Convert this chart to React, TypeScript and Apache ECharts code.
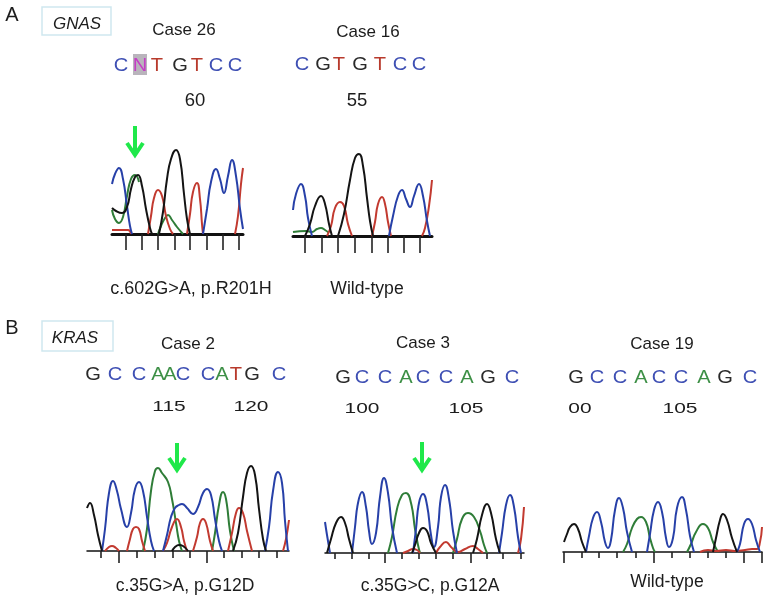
import React, { useEffect, useRef } from "react";
import * as echarts from "echarts";

type Pt = [number, number] | null;

// ---------- Trace values: [scan position, signal]; null breaks a trace ----------
const a1Blue: Pt[] = [[112,50],[115,60],[119,66],[123,55],[127,28],[130,8],[132,0],null,[203,0],[207,25],[211,52],[216,65],[220,55],[224,41],[228,58],[232,74],[236,58],[240,25],[243,5]];
const a1Black: Pt[] = [[112,26],[116,23],[122,21],[127,27],[131,45],[135,57],[138,59],[142,48],[146,25],[150,6],[152,0],null,[159,0],[163,22],[167,55],[171,75],[176,84],[180,75],[184,40],[187,15],[190,0]];
const a1Green: Pt[] = [[112,24],[115,15],[119,11],[123,17],[127,38],[131,55],[135,59],[139,52],null,[158,0],[161,8],[165,16],[168,19],[172,14],[177,7],[183,0]];
const a1Red: Pt[] = [[112,4],[128,4],[131,0],null,[148,0],[151,18],[154,36],[158,44],[162,38],[166,18],[170,5],[173,0],null,[187,0],[190,20],[193,42],[197,51],[200,35],[202,10],[203,0],null,[235,0],[238,18],[241,50],[243,66]];

const a2Blue: Pt[] = [[293,26],[296,42],[301,52],[305,40],[308,18],[312,0],null,[389,0],[393,20],[398,40],[402,46],[406,37],[410,29],[414,40],[419,52],[423,40],[427,15],[430,0]];
const a2Black: Pt[] = [[305,0],[310,12],[315,30],[321,40],[325,32],[329,12],[332,0],null,[338,0],[344,22],[350,56],[355,78],[359,82],[363,70],[367,38],[370,15],[373,0]];
const a2Green: Pt[] = [[293,4],[306,5],[312,4],[317,7],[321,8],[325,6],[329,3]];
const a2Red: Pt[] = [[327,0],[331,10],[335,28],[340,34],[344,30],[348,12],[352,0],null,[372,0],[375,14],[378,32],[382,39],[385,32],[388,14],[391,0],null,[422,0],[425,8],[429,30],[432,56]];

const b1Blue: Pt[] = [[102,0],[105,22],[109,58],[113,70],[117,60],[121,42],[127,24],[131,38],[135,62],[139,69],[143,60],[147,34],[151,10],[154,0],null,[163,0],[167,16],[171,34],[175,43],[179,46],[182,47],[187,43],[193,37],[198,44],[203,58],[207,62],[211,56],[215,32],[219,10],[222,0],null,[265,0],[269,24],[273,60],[278,79],[282,68],[285,30],[288,0]];
const b1Black: Pt[] = [[87,43],[90,48],[94,36],[98,16],[102,0],null,[172,0],[175,4],[179,6],[183,5],[188,0],null,[233,0],[238,18],[243,54],[247,78],[251,85],[255,76],[259,42],[263,12],[266,0]];
const b1Green: Pt[] = [[143,0],[147,22],[151,60],[155,80],[158,83],[162,78],[168,69],[172,52],[176,28],[179,10],[182,0],null,[212,0],[215,18],[219,46],[223,59],[226,52],[230,20],[234,0]];
const b1Red: Pt[] = [[105,0],[109,4],[112,5],[116,3],[119,0],null,[127,0],[130,12],[133,22],[136,24],[139,22],[142,10],[145,0],null,[163,0],[167,8],[172,24],[177,32],[181,24],[184,10],[187,0],null,[193,0],[197,14],[200,28],[203,32],[206,28],[210,10],[213,0],null,[228,0],[232,18],[236,38],[239,43],[243,38],[247,20],[252,0],null,[283,0],[286,12],[289,31]];

const b2Blue: Pt[] = [[325,31],[327,18],[330,0],null,[352,0],[355,26],[358,50],[362,61],[366,46],[369,22],[372,9],[376,20],[380,56],[384,75],[388,60],[392,26],[397,0],null,[413,0],[416,24],[419,50],[423,59],[427,48],[431,18],[434,6],[438,26],[441,56],[445,68],[449,54],[453,22],[457,0],null,[499,0],[502,20],[506,48],[510,58],[514,46],[518,16],[521,0]];
const b2Black: Pt[] = [[327,0],[331,14],[336,30],[341,36],[345,30],[349,14],[353,0],null,[412,0],[415,8],[419,20],[423,25],[427,22],[431,10],[436,0],null,[473,0],[477,14],[482,38],[487,49],[491,40],[496,14],[500,0]];
const b2Green: Pt[] = [[388,0],[392,16],[397,44],[402,58],[406,60],[411,50],[415,24],[418,8],[420,0],null,[453,0],[457,14],[462,34],[468,40],[474,36],[480,22],[484,8],[487,0]];
const b2Red: Pt[] = [[403,0],[408,2],[413,4],[417,3],[420,0],null,[436,0],[440,6],[446,11],[451,6],[458,1],[465,4],[473,7],[478,4],[483,0],null,[518,0],[521,14],[524,46]];

const b3Blue: Pt[] = [[586,0],[589,16],[593,34],[597,40],[601,30],[605,10],[608,4],[611,12],[615,42],[619,54],[623,44],[627,20],[632,0],null,[647,0],[650,18],[654,42],[658,50],[662,40],[666,14],[669,5],[673,14],[677,44],[682,55],[686,42],[690,16],[694,0],null,[737,0],[740,8],[744,28],[748,33],[752,28],[756,12],[760,0]];
const b3Black: Pt[] = [[564,10],[567,18],[570,25],[574,28],[578,23],[582,10],[586,0],null,[713,0],[716,14],[720,32],[723,38],[727,32],[732,14],[737,0]];
const b3Green: Pt[] = [[623,0],[627,8],[632,24],[637,33],[641,35],[646,30],[650,14],[653,4],[655,0],null,[687,0],[691,8],[696,20],[703,28],[708,24],[713,10],[718,0]];
const b3Red: Pt[] = [[700,0],[708,2],[716,1],[726,2],[735,1],[745,2],[752,3],[757,3],[760,10],[762,25]];

// ---------- Tick positions on the scan axis ----------
const a1Ticks = [126, 142, 158, 175, 190, 207, 223, 239];
const a2Ticks = [305, 322, 338, 355, 372, 388, 404, 420];
const b1Short = [101, 137, 155, 173, 190, 224, 242, 259, 277];
const b1Long = [119, 207];
const b2Short = [335, 352, 369, 402, 419, 436, 453, 487, 503, 521];
const b2Long = [385, 471];
const b3Short = [582, 599, 617, 636, 672, 690, 708, 726];
const b3Long = [564, 654, 744, 762];

// ---------- Text ----------
const a1Bases = ["C", "N", "T", "G", "T", "C", "C"];
const a2Bases = ["C", "G", "T", "G", "T", "C", "C"];
const b1Bases = ["G", "C", "C", "A", "A", "C", "C", "A", "T", "G", "C"];
const b2Bases = ["G", "C", "C", "A", "C", "C", "A", "G", "C"];
const b3Bases = ["G", "C", "C", "A", "C", "C", "A", "G", "C"];
const a1Numbers = ["60"];
const a2Numbers = ["55"];
const b1Numbers = ["115", "120"];
const b2Numbers = ["100", "105"];
const b3Numbers = ["00", "105"];

const FONT = '"Liberation Sans", Arial, sans-serif';
const BASE_COLOR: Record<string, string> = { A: "#3c8f45", C: "#3f50b4", G: "#2a2a2a", T: "#b83a2c", N: "#c43fc4" };
const TRACE = { blue: "#2740a8", black: "#141414", green: "#2f7d38", red: "#c23a30" };

const panels = [
  { left: 112, right: 243, base: 234, tickLen: 16, axisW: 3, traces: [a1Green, a1Red, a1Blue, a1Black], short: a1Ticks, long: [] as number[], longLen: 16 },
  { left: 293, right: 432, base: 236, tickLen: 17, axisW: 3, traces: [a2Green, a2Red, a2Blue, a2Black], short: a2Ticks, long: [] as number[], longLen: 17 },
  { left: 87, right: 289, base: 551, tickLen: 7, axisW: 1.5, traces: [b1Green, b1Red, b1Blue, b1Black], short: b1Short, long: b1Long, longLen: 12 },
  { left: 325, right: 524, base: 553, tickLen: 6, axisW: 1.5, traces: [b2Green, b2Red, b2Blue, b2Black], short: b2Short, long: b2Long, longLen: 10 },
  { left: 563, right: 762, base: 552, tickLen: 6, axisW: 1.5, traces: [b3Green, b3Red, b3Blue, b3Black], short: b3Short, long: b3Long, longLen: 11 },
];
const traceColors = [TRACE.green, TRACE.red, TRACE.blue, TRACE.black];

const toData = (t: Pt[]) => t.map((p) => (p ? p : ["-", "-"]));

function label(text: string, x: number, y: number, size = 17, extra: any = {}) {
  return {
    type: "text", x, y, silent: true, ...extra,
    style: { text, font: `${extra.italic ? "italic " : ""}${size}px ${FONT}`, fill: extra.fill ?? "#1c1c1c", align: "center", verticalAlign: "middle" },
  };
}

function bases(letters: string[], xs: number[], y: number) {
  return letters.map((b, i) => ({
    type: "text", x: xs[i], y, scaleX: 1.15, silent: true,
    style: { text: b, font: `17.5px ${FONT}`, fill: BASE_COLOR[b], align: "center", verticalAlign: "middle" },
  }));
}

function arrow(x: number, top: number, tip: number) {
  return [
    { type: "line", silent: true, shape: { x1: x, y1: top, x2: x, y2: tip - 3 }, style: { stroke: "#1fe84a", lineWidth: 4 } },
    { type: "polyline", silent: true, shape: { points: [[x - 8, tip - 14], [x, tip - 2], [x + 8, tip - 14]] }, style: { stroke: "#1fe84a", lineWidth: 4, fill: "none" } },
  ];
}

function box(x: number, y: number, w: number, h: number) {
  return { type: "rect", silent: true, shape: { x, y, width: w, height: h }, style: { fill: "#fff", stroke: "#cfe8ef", lineWidth: 1.5 } };
}

export default function App() {
  const ref = useRef<HTMLDivElement>(null);
  useEffect(() => {
    const chart = echarts.init(ref.current!, null, { renderer: "svg" });
    const grid: any[] = [], xAxis: any[] = [], yAxis: any[] = [], series: any[] = [];
    panels.forEach((p, i) => {
      grid.push({ left: p.left, width: p.right - p.left, top: p.base - 100, height: 100 });
      const ax = (values: number[], len: number, showLine: boolean) => ({
        type: "value", gridIndex: i, min: p.left, max: p.right, position: "bottom",
        splitLine: { show: false }, axisLabel: { show: false },
        axisLine: { show: showLine, onZero: false, lineStyle: { color: "#111", width: p.axisW } },
        axisTick: { show: values.length > 0, customValues: values, length: len, inside: false, lineStyle: { color: "#222", width: 1.6 } },
      });
      xAxis.push(ax(p.short, p.tickLen, true));
      yAxis.push({ type: "value", gridIndex: i, min: 0, max: 100, show: false });
      p.traces.forEach((t, k) => {
        series.push({
          type: "line", xAxisIndex: i, yAxisIndex: i, data: toData(t), smooth: 0.5, showSymbol: false, symbol: "none",
          connectNulls: false, clip: false, silent: true, lineStyle: { color: traceColors[k], width: 2 },
        });
      });
    });
    // long ticks: a second x axis per panel that has any
    const longPanels = panels.map((p, i) => ({ p, i })).filter((o) => o.p.long.length);
    longPanels.forEach(({ p, i }) => {
      xAxis.push({
        type: "value", gridIndex: i, min: p.left, max: p.right, position: "bottom",
        splitLine: { show: false }, axisLabel: { show: false }, axisLine: { show: false, onZero: false },
        axisTick: { show: true, customValues: p.long, length: p.longLen, lineStyle: { color: "#222", width: 1.6 } },
      });
      series.push({ type: "line", xAxisIndex: xAxis.length - 1, yAxisIndex: i, data: [], silent: true });
    });

    const wide = { scaleX: 1.35 };
    const graphic: any[] = [
      box(42, 7, 69, 28), box(42, 321, 71, 30),
      label("A", 12, 14, 20), label("B", 12, 327, 20),
      label("GNAS", 77, 23, 17, { italic: true }), label("KRAS", 75, 337, 17, { italic: true }),
      label("Case 26", 184, 29), label("Case 16", 368, 31),
      label("Case 2", 188, 343), label("Case 3", 423, 342), label("Case 19", 662, 343),
      { type: "rect", silent: true, shape: { x: 133, y: 54, width: 14, height: 21 }, style: { fill: "#b9b4bc" } },
      ...bases(a1Bases, [121, 140, 157, 180, 197, 216, 235], 65),
      ...bases(a2Bases, [302, 323, 339, 360, 380, 400, 419], 64),
      ...bases(b1Bases, [93, 115, 139, 158, 170, 183, 208, 222, 236, 252, 279], 374),
      ...bases(b2Bases, [343, 362, 385, 406, 423, 446, 467, 488, 512], 377),
      ...bases(b3Bases, [576, 597, 620, 641, 659, 681, 704, 725, 750], 377),
      label(a1Numbers[0], 195, 99, 18.5),
      label(a2Numbers[0], 357, 99, 18.5),
      label(b1Numbers[0], 169, 406, 15.5, wide), label(b1Numbers[1], 251, 406, 15.5, wide),
      label(b2Numbers[0], 362, 408, 15.5, wide), label(b2Numbers[1], 466, 408, 15.5, wide),
      label(b3Numbers[0], 580, 408, 15.5, wide), label(b3Numbers[1], 680, 408, 15.5, wide),
      label("c.602G>A, p.R201H", 191, 288, 18),
      label("Wild-type", 367, 288, 17.6),
      label("c.35G>A, p.G12D", 185, 585, 17.5),
      label("c.35G>C, p.G12A", 430, 585, 17.5),
      label("Wild-type", 667, 581, 17.6),
      ...arrow(135, 126, 157), ...arrow(177, 443, 472), ...arrow(422, 442, 472),
    ];

    chart.setOption({
      animation: false, backgroundColor: "#ffffff",
      grid, xAxis, yAxis, series, graphic,
    });
    return () => chart.dispose();
  }, []);
  return <div ref={ref} style={{ position: "fixed", left: 0, top: 0, width: 768, height: 599, filter: "blur(0.35px)" }} />;
}
